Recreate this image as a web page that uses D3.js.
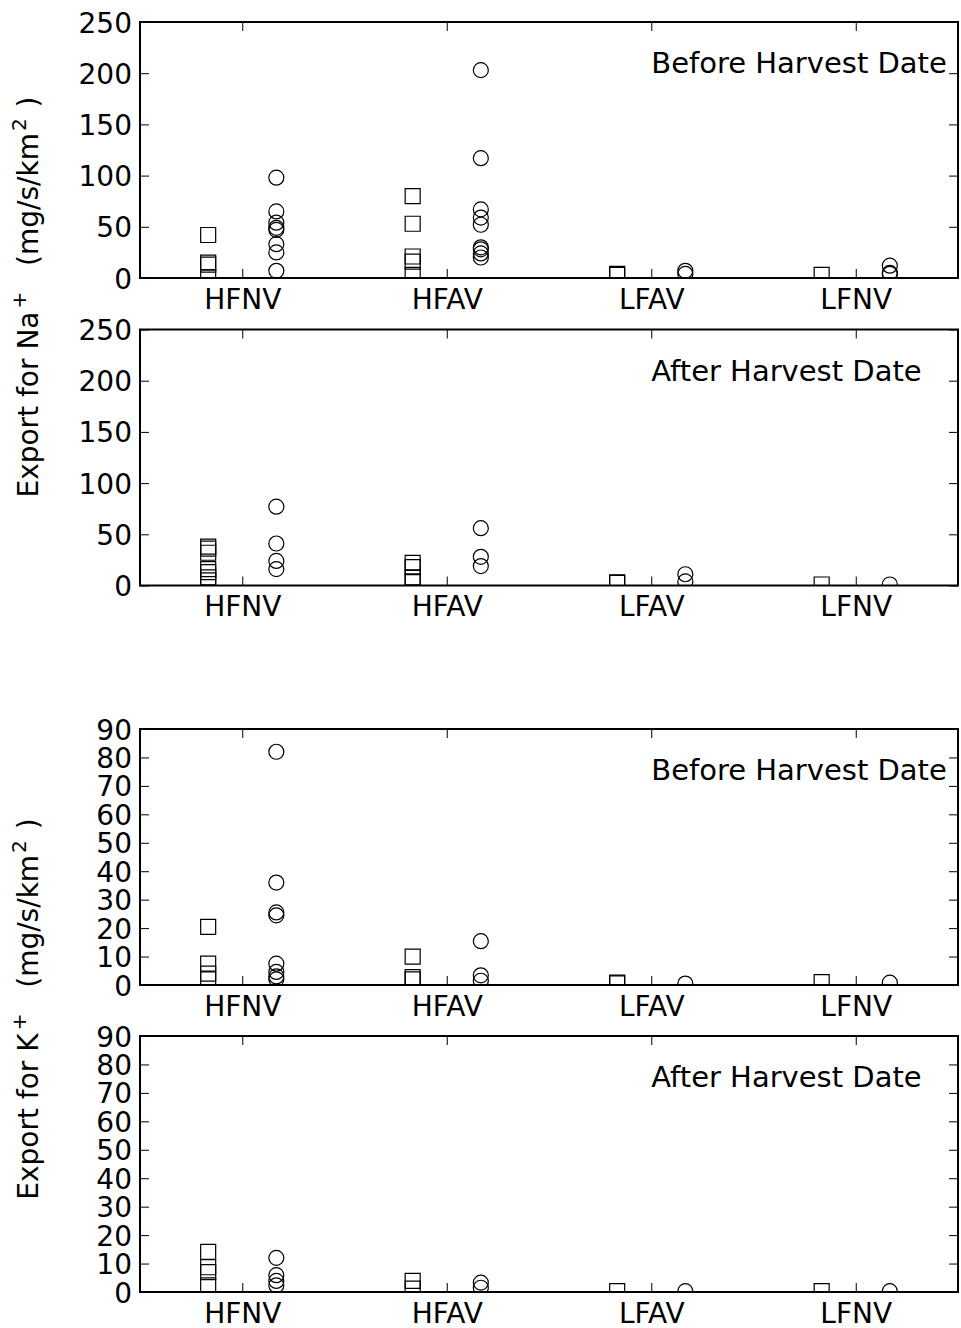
<!DOCTYPE html>
<html>
<head>
<meta charset="utf-8">
<script src="https://cdn.jsdelivr.net/npm/d3@7"></script>
<style>
  body { margin: 0; background: #fff; }
  svg { display: block; font-family: "DejaVu Sans", sans-serif; }
</style>
</head>
<body>
<div id="chart"></div>
<script>
// categories on the x axis
const categories = ["HFNV", "HFAV", "LFAV", "LFNV"];

// Na+ before harvest (one array per category)
const naBeforeSquares = [[42, 15, 13, 1], [80, 53, 21, 16, 3], [4, 3], [3]];
const naBeforeCircles = [[98, 65, 54, 49, 47, 33, 25, 7], [203, 117, 67, 59, 52, 30, 28, 24, 20], [7, 4], [12, 5, 4]];
// Na+ after harvest
const naAfterSquares = [[38, 36, 32, 16, 13, 8, 5], [22, 18, 8, 4], [3, 2.5], [1]];
const naAfterCircles = [[77, 41, 24, 16], [56, 28, 19], [11, 4], [1]];
// K+ before harvest
const kBeforeSquares = [[20.4, 7.5, 4, 2], [10, 2.8, 2], [0.8, 0.6], [1]];
const kBeforeCircles = [[82, 36, 25.5, 24.5, 7.5, 4.6, 3, 2], [15.4, 3.4, 1.5], [0.5], [0.8]];
// K+ after harvest
const kAfterSquares = [[14.1, 8.7, 7, 2.3], [3.9, 1.2], [0.3], [0.3]];
const kAfterCircles = [[12, 5.9, 3.9, 2.3], [3.3, 1.5], [0.3], [0.3]];

const naTicks = [0, 50, 100, 150, 200, 250];
const kTicks = [0, 10, 20, 30, 40, 50, 60, 70, 80, 90];

const panels = [
  { top: 22,   max: 250, ticks: naTicks, title: "Before Harvest Date", sq: naBeforeSquares, ci: naBeforeCircles },
  { top: 329.5, max: 250, ticks: naTicks, title: "After Harvest Date",  sq: naAfterSquares,  ci: naAfterCircles },
  { top: 729,  max: 90,  ticks: kTicks,  title: "Before Harvest Date", sq: kBeforeSquares,  ci: kBeforeCircles },
  { top: 1036, max: 90,  ticks: kTicks,  title: "After Harvest Date",  sq: kAfterSquares,   ci: kAfterCircles }
];

const W = 961, H = 1328;
const left = 140, right = 958, ph = 256;
const fs = 28;

const svg = d3.select("#chart").append("svg")
  .attr("width", W)
  .attr("height", H);

const x = d3.scaleLinear().domain([0, 4]).range([0, right - left]);
const tickPos = categories.map((c, i) => i + 0.5);

const square = d3.symbol().type(d3.symbolSquare).size(15 * 15);
const circle = d3.symbol().type(d3.symbolCircle).size(Math.PI * 7.5 * 7.5);

panels.forEach((p, k) => {
  const y = d3.scaleLinear().domain([0, p.max]).range([ph, 0]);
  const g = svg.append("g").attr("transform", "translate(" + left + "," + p.top + ")");

  svg.append("clipPath").attr("id", "clip" + k)
    .append("rect").attr("width", right - left).attr("height", ph);

  // left axis with labels, ticks point inward
  const yl = g.append("g")
    .call(d3.axisLeft(y).tickValues(p.ticks).tickSizeInner(-9).tickSizeOuter(0).tickPadding(8));
  yl.selectAll("text").attr("dy", "0.36em");
  // right ticks
  g.append("g").attr("transform", "translate(" + (right - left) + ",0)")
    .call(d3.axisRight(y).tickValues(p.ticks).tickSizeInner(-9).tickSizeOuter(0).tickFormat(""));
  // bottom axis with category names
  g.append("g").attr("transform", "translate(0," + ph + ")")
    .call(d3.axisBottom(x).tickValues(tickPos).tickSizeInner(-9).tickSizeOuter(0).tickPadding(11)
      .tickFormat((d, i) => categories[i]));
  // top ticks
  g.append("g")
    .call(d3.axisTop(x).tickValues(tickPos).tickSizeInner(-9).tickSizeOuter(0).tickFormat(""));

  g.selectAll(".domain").remove();
  g.selectAll(".tick line").attr("stroke", "#000").attr("stroke-width", 1);
  g.selectAll(".tick text").attr("fill", "#000")
    .style("font-size", fs + "px").style("font-family", "DejaVu Sans, sans-serif");

  // markers
  const pts = g.append("g").attr("clip-path", "url(#clip" + k + ")");
  const sqData = [], ciData = [];
  p.sq.forEach((vals, i) => vals.forEach(v => sqData.push({ xv: i + 1 / 3, v: v })));
  p.ci.forEach((vals, i) => vals.forEach(v => ciData.push({ xv: i + 2 / 3, v: v })));

  pts.selectAll(".sq").data(sqData).enter().append("path")
    .attr("class", "sq")
    .attr("d", square)
    .attr("transform", d => "translate(" + x(d.xv) + "," + y(d.v) + ")")
    .attr("fill", "none").attr("stroke", "#000").attr("stroke-width", 1.2);

  pts.selectAll(".ci").data(ciData).enter().append("path")
    .attr("class", "ci")
    .attr("d", circle)
    .attr("transform", d => "translate(" + x(d.xv) + "," + y(d.v) + ")")
    .attr("fill", "none").attr("stroke", "#000").attr("stroke-width", 1.2);

  // panel title
  g.append("text")
    .attr("x", x(2.5))
    .attr("y", y(p.max * 0.8))
    .attr("font-size", 29)
    .text(p.title);

  // frame
  g.append("rect")
    .attr("width", right - left).attr("height", ph)
    .attr("fill", "none").attr("stroke", "#000").attr("stroke-width", 2);
});

// y axis labels
function yLabel(ion, cy) {
  const t = svg.append("text")
    .attr("transform", "translate(38," + cy + ") rotate(-90)")
    .attr("text-anchor", "middle")
    .attr("font-size", fs);
  t.append("tspan").text("Export for " + ion);
  t.append("tspan").attr("font-size", 20).attr("dx", 3).attr("dy", -12).text("+");
  t.append("tspan").attr("dx", 8).attr("dy", 12).text("\u00a0 (mg/s/km");
  t.append("tspan").attr("font-size", 20).attr("dx", 2).attr("dy", -12).text("2");
  t.append("tspan").attr("dx", 2).attr("dy", 12).text("\u00a0)");
}
yLabel("Na", 297);
yLabel("K", 1009);
</script>
</body>
</html>
